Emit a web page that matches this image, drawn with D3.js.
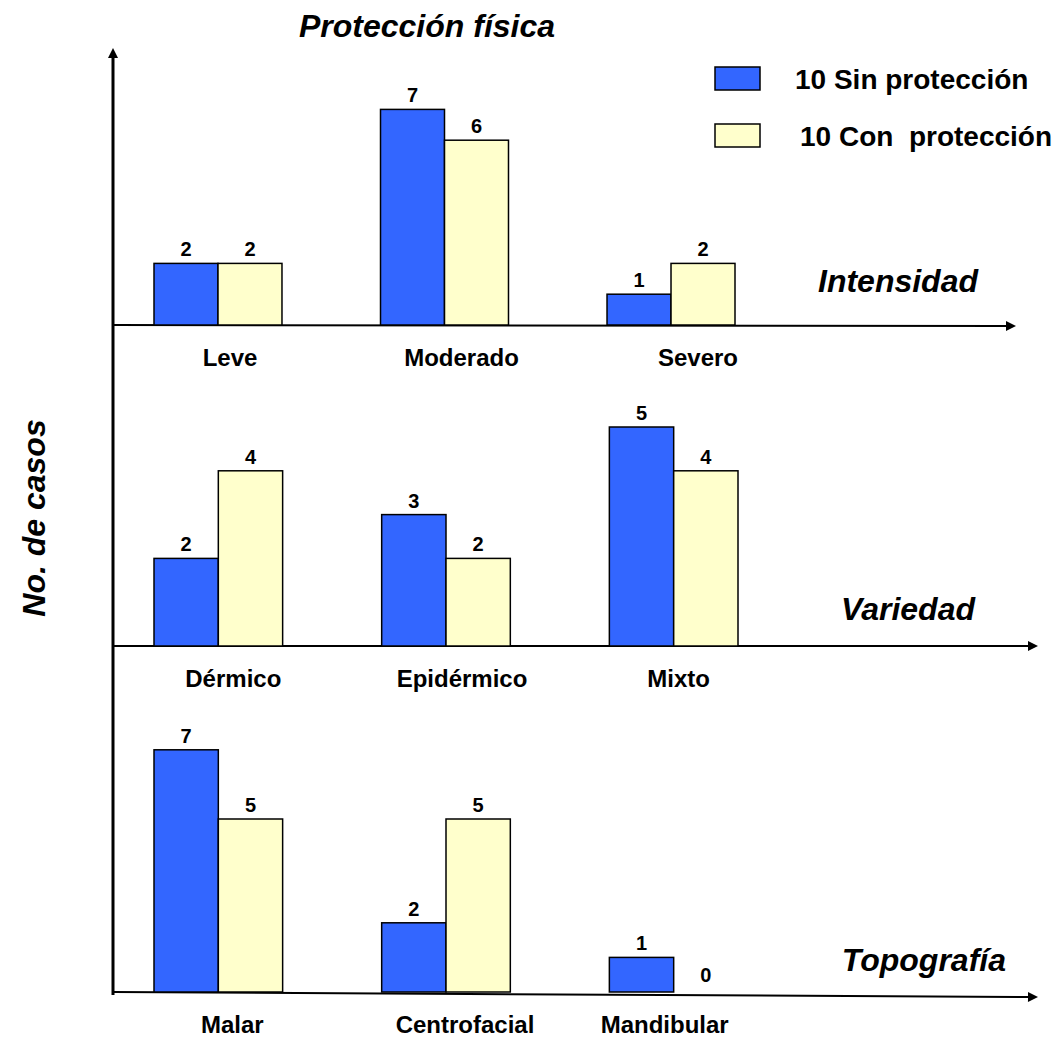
<!DOCTYPE html>
<html>
<head>
<meta charset="utf-8">
<script src="https://cdn.jsdelivr.net/npm/d3@7"></script>
<style>
  body { margin: 0; background: #fff; }
  text { font-family: "Liberation Sans", Arial, sans-serif; font-weight: bold; }
</style>
</head>
<body>
<div id="canvas"></div>
<script>
(function(){

    // data
    var series = ["10 Sin protección", "10 Con  protección"];
    var colors = ["#3366ff", "#ffffcc"];

    var panelTitles = ["Intensidad", "Variedad", "Topografía"];
    var intensidadCats = ["Leve", "Moderado", "Severo"];
    var intensidadSin = [2, 7, 1];
    var intensidadCon = [2, 6, 2];

    var variedadCats = ["Dérmico", "Epidérmico", "Mixto"];
    var variedadSin = [2, 3, 5];
    var variedadCon = [4, 2, 4];

    var topografiaCats = ["Malar", "Centrofacial", "Mandibular"];
    var topografiaSin = [7, 2, 1];
    var topografiaCon = [5, 5, 0];

    var width = 1057, height = 1038;

    var svg = d3.select("#canvas")
                .append("svg")
                .attr("width", width)
                .attr("height", height);

    svg.append("defs").append("marker")
        .attr("id", "arrow")
        .attr("viewBox", "0 0 10 10")
        .attr("refX", 0)
        .attr("refY", 5)
        .attr("markerWidth", 13)
        .attr("markerHeight", 10)
        .attr("markerUnits", "userSpaceOnUse")
        .attr("orient", "auto")
        .append("path")
        .attr("d", "M0,0 L10,5 L0,10 Z")
        .attr("fill", "#000");

    var axisX = 113;

    // panel layout: baseline y, px per case, arrow end, title position, label nudges
    var panels = [
        {cats: intensidadCats, vals: [intensidadSin, intensidadCon], base: 325, baseEnd: 326, unit: 30.8, xEnd: 1006, title: panelTitles[0], tx: 978, ty: 292, range: [154, 735], dx: [12, 17, 27]},
        {cats: variedadCats, vals: [variedadSin, variedadCon], base: 646, baseEnd: 646, unit: 43.8, xEnd: 1028, title: panelTitles[1], tx: 975, ty: 620, range: [154, 738], dx: [15, 16, 5]},
        {cats: topografiaCats, vals: [topografiaSin, topografiaCon], base: 992, baseEnd: 997, unit: 34.6, xEnd: 1028, title: panelTitles[2], tx: 1006, ty: 971, range: [154, 738], dx: [14, 19, -9]}
    ];

    panels.forEach(function(p){

        var x0 = d3.scaleBand()
            .domain(p.cats)
            .range(p.range)
            .paddingInner(0.435)
            .paddingOuter(0);

        var x1 = d3.scaleBand()
            .domain(series)
            .range([0, x0.bandwidth()]);

        var y = d3.scaleLinear()
            .domain([0, 10])
            .range([p.base, p.base - 10 * p.unit]);

        // baseline with arrow
        svg.append("line")
            .attr("x1", axisX)
            .attr("y1", p.base)
            .attr("x2", p.xEnd)
            .attr("y2", p.baseEnd)
            .attr("stroke", "#000")
            .attr("stroke-width", 2)
            .attr("marker-end", "url(#arrow)");

        var g = svg.append("g");

        series.forEach(function(s, si){
            p.cats.forEach(function(c, ci){
                var v = p.vals[si][ci];
                var bx = x0(c) + x1(s);
                if (v > 0) {
                    g.append("rect")
                        .attr("x", bx)
                        .attr("y", y(v))
                        .attr("width", x1.bandwidth())
                        .attr("height", y(0) - y(v))
                        .attr("fill", colors[si])
                        .attr("stroke", "#000")
                        .attr("stroke-width", 1.5);
                }
                g.append("text")
                    .attr("x", bx + x1.bandwidth() / 2)
                    .attr("y", v > 0 ? y(v) - 7 : y(0) - 10)
                    .attr("text-anchor", "middle")
                    .attr("font-size", 20)
                    .text(v);
            });
        });

        // category labels
        p.cats.forEach(function(c, ci){
            g.append("text")
                .attr("x", x0(c) + x0.bandwidth() / 2 + p.dx[ci])
                .attr("y", p.base + 41)
                .attr("text-anchor", "middle")
                .attr("font-size", 24)
                .text(c);
        });

        svg.append("text")
            .attr("x", p.tx)
            .attr("y", p.ty)
            .attr("text-anchor", "end")
            .attr("font-size", 32)
            .attr("font-style", "italic")
            .text(p.title);
    });

    // vertical axis
    svg.append("line")
        .attr("x1", axisX)
        .attr("y1", 995)
        .attr("x2", axisX)
        .attr("y2", 58)
        .attr("stroke", "#000")
        .attr("stroke-width", 3)
        .attr("marker-end", "url(#arrow)");

    // title
    svg.append("text")
        .attr("x", 427)
        .attr("y", 37)
        .attr("text-anchor", "middle")
        .attr("font-size", 32)
        .attr("font-style", "italic")
        .text("Protección física");

    // y title
    svg.append("text")
        .attr("transform", "translate(45,518) rotate(-90)")
        .attr("text-anchor", "middle")
        .attr("font-size", 32)
        .attr("font-style", "italic")
        .text("No. de casos");

    // legend
    var legend = svg.selectAll(".legend")
        .data(series)
        .enter()
        .append("g")
        .attr("class", "legend")
        .attr("transform", function(d, i){ return "translate(715," + (67 + i * 57) + ")"; });

    legend.append("rect")
        .attr("width", 45)
        .attr("height", 23)
        .attr("fill", function(d, i){ return colors[i]; })
        .attr("stroke", "#000")
        .attr("stroke-width", 1.5);

    legend.append("text")
        .attr("x", function(d, i){ return i === 0 ? 80 : 85; })
        .attr("y", 22)
        .attr("font-size", 28)
        .style("white-space", "pre")
        .text(function(d){ return d; });

})();
</script>
</body>
</html>
